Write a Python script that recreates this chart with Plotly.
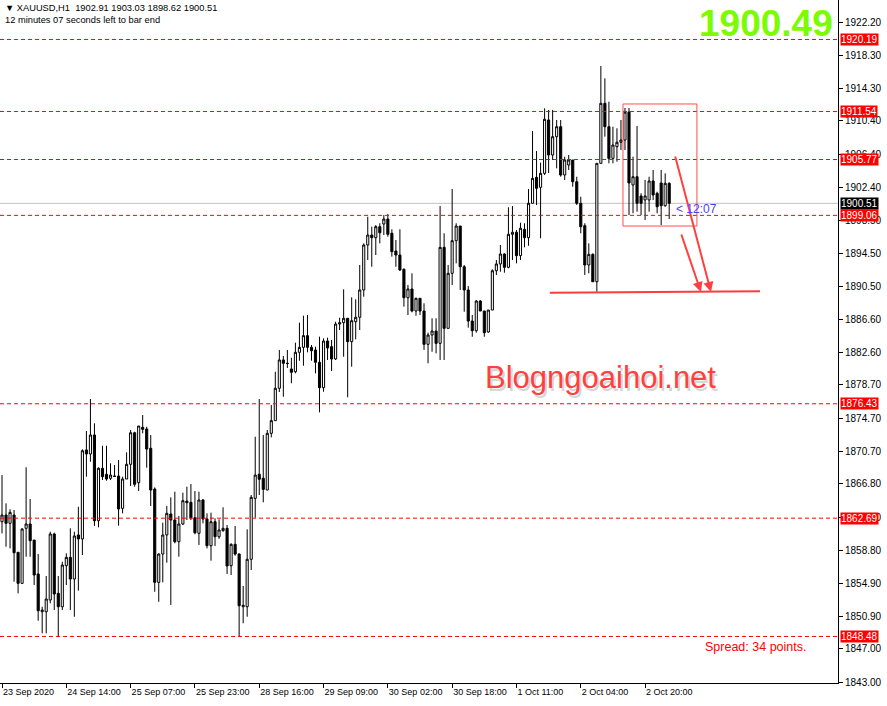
import plotly.graph_objects as go

# XAUUSD H1 bars, oldest first
OPEN = [
    1862.26, 1863.07, 1862.07, 1863.07, 1858.59, 1854.86, 1861.47, 1861.99, 1860.06, 1855.98,
    1851.45, 1851.45, 1852.86, 1860.79, 1853.66, 1852.05, 1856.98, 1857.98, 1855.38, 1860.67,
    1860.19, 1870.88, 1870.40, 1872.68, 1862.38, 1868.68, 1867.96, 1867.48, 1867.75, 1867.75,
    1863.87, 1867.39, 1869.16, 1872.95, 1866.95, 1873.60, 1873.40, 1871.08, 1866.19, 1854.98,
    1858.38, 1860.67, 1863.19, 1862.47, 1859.86, 1861.99, 1864.75, 1864.59, 1862.74, 1860.87,
    1864.87, 1862.59, 1859.38, 1862.26, 1860.46, 1861.19, 1861.47, 1856.98, 1859.55, 1858.38,
    1852.05, 1852.05, 1857.75, 1865.07, 1867.96, 1867.48, 1866.07, 1872.88, 1874.40, 1878.29,
    1881.69, 1881.29, 1880.61, 1880.28, 1882.61, 1883.21, 1884.61, 1883.21, 1882.89, 1881.41,
    1878.36, 1883.97, 1883.29, 1881.81, 1886.01, 1886.17, 1886.70, 1883.89, 1886.29, 1886.82,
    1890.10, 1895.50, 1896.70, 1896.38, 1897.70, 1898.02, 1898.62, 1896.91, 1894.78, 1894.30,
    1892.58, 1889.17, 1890.22, 1887.57, 1889.10, 1887.57, 1883.57, 1884.69, 1885.17, 1883.69,
    1895.22, 1885.49, 1892.10, 1896.02, 1897.78, 1892.89, 1890.10, 1886.37, 1885.21, 1888.77,
    1887.57, 1885.05, 1887.69, 1892.41, 1893.22, 1894.42, 1892.82, 1896.79, 1897.03, 1894.22,
    1897.39, 1896.38, 1900.51, 1903.63, 1902.43, 1904.11, 1910.52, 1906.31, 1908.51, 1909.71,
    1903.91, 1905.11, 1905.71, 1903.10, 1900.51, 1897.82, 1893.10, 1894.38, 1891.09, 1905.31,
    1912.52, 1909.71, 1905.91, 1907.31, 1907.84, 1908.11, 1911.47, 1902.71, 1903.70, 1901.39,
    1900.91, 1900.91, 1903.19, 1901.71, 1902.95, 1900.22, 1902.91,
]
HIGH = [
    1867.87, 1864.47, 1863.75, 1863.67, 1858.59, 1861.47, 1868.80, 1864.99, 1860.06, 1858.38,
    1852.05, 1855.74, 1861.06, 1860.94, 1855.74, 1857.46, 1858.46, 1861.47, 1861.06, 1864.06,
    1870.96, 1873.16, 1877.00, 1874.08, 1868.80, 1871.39, 1871.39, 1869.28, 1869.07, 1869.67,
    1867.67, 1870.60, 1873.28, 1873.07, 1873.76, 1875.08, 1873.67, 1872.68, 1866.39, 1858.46,
    1862.14, 1864.15, 1865.19, 1865.87, 1862.95, 1865.75, 1866.47, 1866.79, 1865.95, 1865.87,
    1864.99, 1863.27, 1863.35, 1862.67, 1862.55, 1863.99, 1861.87, 1859.67, 1861.75, 1858.46,
    1854.54, 1861.35, 1865.47, 1872.47, 1877.00, 1872.68, 1873.28, 1876.28, 1880.28, 1882.89,
    1882.17, 1882.89, 1881.96, 1883.77, 1886.17, 1887.01, 1887.09, 1883.49, 1883.29, 1884.49,
    1884.29, 1884.37, 1884.09, 1886.29, 1886.77, 1890.18, 1886.70, 1889.22, 1888.98, 1893.10,
    1895.70, 1898.90, 1897.70, 1897.90, 1898.11, 1899.10, 1899.22, 1897.39, 1896.10, 1897.39,
    1892.70, 1890.70, 1892.10, 1889.17, 1889.10, 1888.50, 1884.97, 1886.70, 1886.70, 1900.18,
    1896.91, 1893.10, 1902.23, 1898.11, 1897.78, 1893.10, 1890.58, 1887.09, 1888.89, 1888.89,
    1887.57, 1887.69, 1892.58, 1893.70, 1895.50, 1894.50, 1900.03, 1900.18, 1897.30, 1898.18,
    1898.11, 1902.23, 1909.19, 1906.79, 1905.39, 1911.92, 1911.72, 1911.72, 1910.52, 1910.52,
    1906.11, 1906.31, 1905.71, 1903.70, 1901.30, 1898.11, 1895.70, 1894.50, 1905.31, 1917.00,
    1915.52, 1912.71, 1909.71, 1909.52, 1910.52, 1911.96, 1911.96, 1906.11, 1909.80, 1901.71,
    1903.31, 1903.70, 1904.51, 1901.90, 1904.51, 1904.11, 1903.03,
]
LOW = [
    1860.87, 1859.26, 1859.06, 1855.06, 1853.66, 1854.86, 1858.06, 1858.06, 1854.66, 1850.37,
    1848.86, 1848.86, 1852.46, 1851.65, 1848.45, 1851.65, 1854.66, 1851.65, 1850.85, 1853.98,
    1858.26, 1867.67, 1869.47, 1861.75, 1861.59, 1867.27, 1867.19, 1867.27, 1867.67, 1861.79,
    1863.27, 1867.39, 1866.55, 1866.47, 1865.95, 1872.88, 1868.75, 1864.15, 1853.85, 1852.65,
    1854.98, 1857.34, 1852.26, 1859.67, 1858.06, 1861.87, 1862.47, 1862.47, 1860.75, 1859.47,
    1862.07, 1859.06, 1857.58, 1859.34, 1860.20, 1861.06, 1855.98, 1855.86, 1858.18, 1848.45,
    1850.06, 1850.85, 1856.46, 1862.74, 1865.47, 1864.59, 1866.07, 1872.40, 1874.40, 1877.84,
    1877.28, 1880.73, 1878.89, 1880.09, 1881.60, 1881.00, 1882.61, 1881.60, 1880.09, 1875.40,
    1877.88, 1881.69, 1880.37, 1881.69, 1885.29, 1882.08, 1877.21, 1880.88, 1884.17, 1885.29,
    1889.29, 1893.70, 1892.89, 1894.30, 1895.70, 1896.70, 1896.50, 1894.10, 1892.89, 1892.38,
    1888.09, 1887.09, 1887.41, 1887.01, 1887.09, 1882.89, 1881.29, 1882.68, 1882.49, 1881.69,
    1881.69, 1885.49, 1890.70, 1893.30, 1890.10, 1887.49, 1885.57, 1884.48, 1884.97, 1887.57,
    1884.48, 1884.97, 1887.69, 1891.90, 1892.29, 1892.17, 1892.70, 1893.70, 1893.30, 1893.70,
    1895.22, 1895.41, 1900.51, 1900.31, 1896.31, 1903.91, 1904.15, 1905.71, 1904.71, 1903.71,
    1903.31, 1904.51, 1902.50, 1900.31, 1896.91, 1891.90, 1892.10, 1891.09, 1889.89, 1905.31,
    1908.51, 1905.31, 1905.31, 1905.51, 1906.91, 1906.91, 1899.10, 1899.31, 1899.50, 1899.10,
    1898.50, 1899.50, 1900.91, 1899.31, 1897.90, 1900.10, 1898.62,
]
CLOSE = [
    1863.07, 1862.07, 1863.39, 1858.54, 1854.86, 1861.39, 1861.99, 1859.98, 1855.86, 1851.57,
    1851.65, 1852.98, 1860.79, 1853.58, 1852.05, 1857.06, 1857.98, 1855.38, 1860.55, 1860.19,
    1870.79, 1870.40, 1872.68, 1862.38, 1868.68, 1867.67, 1867.39, 1867.87, 1867.71, 1863.79,
    1867.39, 1869.16, 1872.95, 1866.76, 1873.76, 1873.36, 1870.99, 1866.07, 1854.98, 1858.38,
    1860.67, 1863.27, 1862.47, 1859.86, 1861.99, 1864.79, 1864.55, 1862.74, 1860.94, 1864.87,
    1862.59, 1859.38, 1862.26, 1860.46, 1861.27, 1861.47, 1856.94, 1859.55, 1858.38, 1852.17,
    1852.22, 1857.75, 1865.19, 1867.87, 1867.36, 1866.15, 1872.88, 1874.40, 1878.29, 1881.69,
    1881.29, 1881.27, 1880.21, 1882.61, 1883.21, 1884.61, 1883.21, 1882.80, 1881.41, 1878.36,
    1883.97, 1883.13, 1881.81, 1886.01, 1886.17, 1886.70, 1883.89, 1886.41, 1886.82, 1890.10,
    1895.50, 1896.70, 1896.38, 1897.70, 1896.98, 1898.62, 1896.79, 1894.70, 1894.30, 1892.50,
    1889.17, 1890.22, 1887.57, 1889.10, 1887.57, 1883.57, 1884.69, 1885.17, 1883.69, 1895.22,
    1885.49, 1892.10, 1896.02, 1897.78, 1892.89, 1890.10, 1886.37, 1885.21, 1888.77, 1887.57,
    1884.97, 1887.69, 1892.41, 1893.22, 1894.42, 1892.82, 1896.79, 1897.03, 1894.22, 1897.51,
    1896.38, 1900.51, 1903.51, 1902.31, 1904.11, 1910.60, 1906.31, 1908.51, 1909.71, 1903.91,
    1905.71, 1905.71, 1903.10, 1900.51, 1897.70, 1893.10, 1894.38, 1891.09, 1905.31, 1912.52,
    1909.71, 1905.91, 1907.51, 1907.84, 1908.11, 1911.47, 1902.95, 1903.70, 1900.51, 1900.51,
    1901.39, 1903.19, 1901.51, 1900.10, 1900.22, 1902.91, 1900.51,
]

TIME_LABELS = ["23 Sep 2020", "24 Sep 14:00", "25 Sep 07:00", "25 Sep 23:00", "28 Sep 16:00",
               "29 Sep 09:00", "30 Sep 02:00", "30 Sep 18:00", "1 Oct 11:00", "2 Oct 04:00",
               "2 Oct 20:00"]
PRICE_TICKS = [1922.20, 1918.30, 1914.30, 1910.40, 1906.40, 1902.40, 1898.50, 1894.50, 1890.50,
               1886.60, 1882.60, 1878.70, 1874.70, 1870.70, 1866.80, 1862.80, 1858.80, 1854.90,
               1850.90, 1847.00, 1843.00]
LEVELS = [1920.19, 1911.54, 1905.77, 1899.06, 1876.43, 1862.69, 1848.48]
BID = 1900.51
SUPPORT = 1889.86

bars = list(range(len(OPEN)))
tick_pos = [16 * i for i in range(len(TIME_LABELS))]
FONT = "Tahoma, Liberation Sans, Arial, sans-serif"

fig = go.Figure(go.Candlestick(
    x=bars, open=OPEN, high=HIGH, low=LOW, close=CLOSE,
    increasing=dict(line=dict(color="black", width=1), fillcolor="white"),
    decreasing=dict(line=dict(color="black", width=1), fillcolor="black"),
    whiskerwidth=0, hoverinfo="skip",
))

shapes = []
for lv in LEVELS:
    shapes.append(dict(type="line", xref="paper", x0=0, x1=1, yref="y", y0=lv, y1=lv,
                       line=dict(color="#FF0000", width=1, dash="4px,3px")))
shapes.append(dict(type="line", xref="paper", x0=0, x1=1, yref="y", y0=BID, y1=BID,
                   line=dict(color="#C0C0C0", width=1), layer="below"))
# hand-drawn analysis objects
shapes.append(dict(type="rect", x0=154.5, x1=172.9, y0=1897.78, y1=1912.44,
                   line=dict(color="#FF4F4F", width=1)))
shapes.append(dict(type="line", x0=136.3, x1=188.6, y0=SUPPORT - 0.1, y1=SUPPORT + 0.1,
                   line=dict(color="#FF3B3B", width=2)))

ann = []
for lv in LEVELS:
    ann.append(dict(xref="paper", x=1, xanchor="left", xshift=2, yref="y", y=lv,
                    yanchor="middle", text=f"{lv:.2f}", showarrow=False, bgcolor="#FF0000",
                    borderpad=0, font=dict(family=FONT, size=10, color="white")))
ann.append(dict(xref="paper", x=1, xanchor="left", xshift=2, yref="y", y=BID,
                yanchor="middle", text=f"{BID:.2f}", showarrow=False, bgcolor="black",
                borderpad=0, font=dict(family=FONT, size=10, color="white")))
ann.append(dict(x=176.4, y=SUPPORT, ax=167.4, ay=1906.31, axref="x", ayref="y", text="",
                showarrow=True, arrowhead=2, arrowsize=1, arrowwidth=2, arrowcolor="#FF4040"))
ann.append(dict(x=173.9, y=SUPPORT, ax=168.9, ay=1896.94, axref="x", ayref="y", text="",
                showarrow=True, arrowhead=2, arrowsize=1, arrowwidth=2, arrowcolor="#FF4040"))
ann.append(dict(x=167.3, y=1899.8, xanchor="left", yanchor="middle", text="< 12:07",
                showarrow=False, font=dict(family=FONT, size=12, color="#4646F0")))
ann.append(dict(xref="paper", yref="paper", x=0, y=1, xanchor="left", yanchor="top",
                xshift=3, yshift=-1, showarrow=False, align="left",
                text="▼ XAUUSD,H1  1902.91 1903.03 1898.62 1900.51<br>12 minutes 07 seconds left to bar end",
                font=dict(family=FONT, size=9.3, color="black")))
ann.append(dict(xref="paper", yref="paper", x=1, y=1, xanchor="right", yanchor="top",
                xshift=-3, yshift=-1, showarrow=False, text="<b>1900.49</b>",
                font=dict(family="Liberation Sans, Arial", size=37, color="#7CFC00")))
for dx, dy, col in [(2, -3, "rgba(0,0,0,0.18)"), (0, 0, "#FF4040")]:
    ann.append(dict(xref="paper", yref="paper", x=0.5764, y=0.4466, xanchor="left",
                    yanchor="middle", xshift=dx, yshift=dy, showarrow=False,
                    text="Blogngoaihoi.net",
                    font=dict(family="Liberation Sans, Arial", size=31, color=col)))
ann.append(dict(xref="paper", yref="paper", x=0.9642, y=0.0527, xanchor="right",
                yanchor="middle", showarrow=False, text="Spread: 34 points.",
                font=dict(family=FONT, size=12.5, color="#FF0000")))

fig.update_layout(
    width=887, height=706,
    margin=dict(l=0, r=49, t=0, b=23, autoexpand=False),
    plot_bgcolor="white", paper_bgcolor="white",
    showlegend=False, boxgap=0.25,
    shapes=shapes, annotations=ann,
    xaxis=dict(range=[-0.5, 208], rangeslider=dict(visible=False), showgrid=False,
               zeroline=False, showline=True, linecolor="black", linewidth=1, mirror=False,
               automargin=False, tickangle=0,
               ticks="outside", ticklen=4, tickcolor="black", tickvals=tick_pos,
               ticktext=TIME_LABELS, ticklabelposition="outside right",
               tickfont=dict(family=FONT, size=9, color="black")),
    yaxis=dict(range=[1842.89, 1924.93], side="right", showgrid=False, zeroline=False,
               showline=True, linecolor="black", linewidth=1, mirror=True, automargin=False,
               ticks="outside", ticklen=4, tickcolor="black", tickvals=PRICE_TICKS,
               tickformat=".2f", tickfont=dict(family=FONT, size=10, color="black")),
)

# the page body has a default 8px margin; drop it so the chart fills the window
fig.write_html("out.html", config={"displayModeBar": False},
               post_script="document.body.style.margin='0px';")
